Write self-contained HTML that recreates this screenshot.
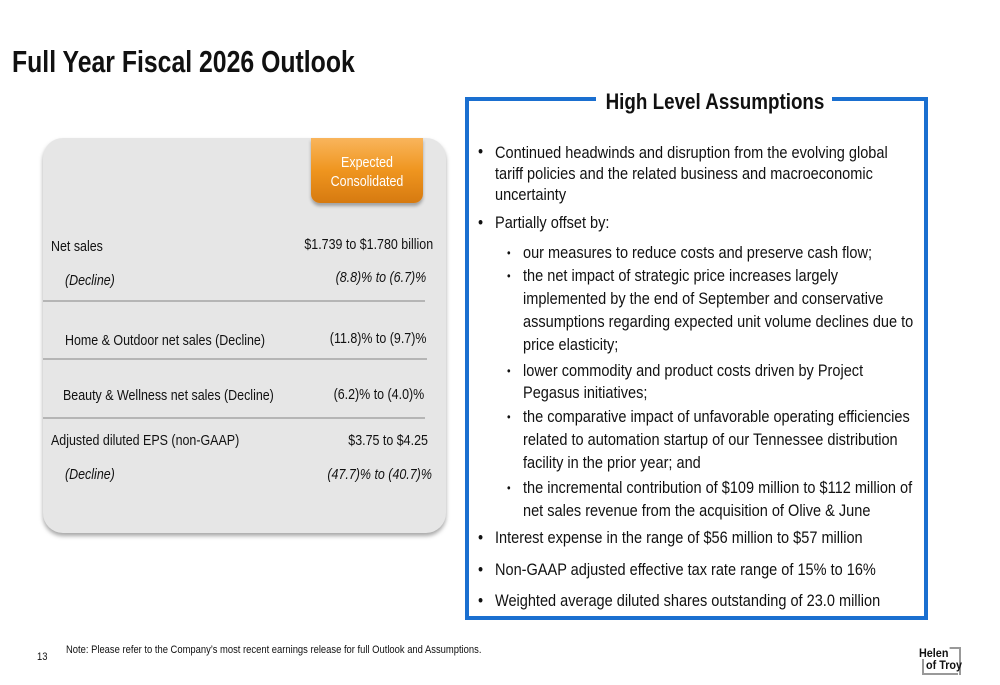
<!DOCTYPE html>
<html><head><meta charset="utf-8"><style>
body{margin:0;background:#fff;}
#slide{position:relative;width:1000px;height:685px;overflow:hidden;font-family:"Liberation Sans Narrow","Liberation Sans",Arial,sans-serif;color:#111;}
.t{position:absolute;white-space:nowrap;line-height:20px;transform-origin:0 50%;transform:scaleX(0.855);}
.r{transform-origin:100% 50%;text-align:right;}
.c{transform-origin:50% 50%;text-align:center;}
.b{font-size:17px;}
.tb{font-size:15px;transform:scaleX(0.83);}
.i{font-style:italic;}
.hr{position:absolute;height:2px;background:#b5b5b5;}
</style></head><body>
<div id="slide">
<div class="t" style="left:12px;top:45px;font-size:31px;font-weight:bold;line-height:34px;transform:scaleX(0.8);">Full Year Fiscal 2026 Outlook</div>

<div style="position:absolute;left:43px;top:138px;width:403px;height:395px;background:#e6e6e6;border-radius:20px;box-shadow:0 3px 4px rgba(0,0,0,0.35);">
</div>
<div style="position:absolute;left:311px;top:138px;width:112px;height:65px;background:linear-gradient(#f9b55c,#ef951f 50%,#d67a10);border-radius:0 0 9px 9px;box-shadow:0 3px 3px rgba(0,0,0,0.3);"></div>
<div class="t c tb" style="left:311px;width:112px;top:153px;color:#fff;">Expected</div>
<div class="t c tb" style="left:311px;width:112px;top:172px;color:#fff;">Consolidated</div>

<div class="t tb" style="left:51px;top:237px;">Net sales</div>
<div class="t tb r" style="right:567px;top:235px;">$1.739 to $1.780 billion</div>
<div class="t tb i" style="left:65px;top:271px;">(Decline)</div>
<div class="t tb i r" style="right:574px;top:268px;">(8.8)% to (6.7)%</div>
<div class="hr" style="left:43px;width:382px;top:300px;"></div>
<div class="t tb" style="left:65px;top:331px;">Home &amp; Outdoor net sales (Decline)</div>
<div class="t tb r" style="right:574px;top:329px;">(11.8)% to (9.7)%</div>
<div class="hr" style="left:43px;width:384px;top:358px;"></div>
<div class="t tb" style="left:63px;top:386px;">Beauty &amp; Wellness net sales (Decline)</div>
<div class="t tb r" style="right:576px;top:385px;">(6.2)% to (4.0)%</div>
<div class="hr" style="left:43px;width:382px;top:417px;"></div>
<div class="t tb" style="left:51px;top:431px;">Adjusted diluted EPS (non-GAAP)</div>
<div class="t tb r" style="right:572px;top:431px;">$3.75 to $4.25</div>
<div class="t tb i" style="left:65px;top:465px;">(Decline)</div>
<div class="t tb i r" style="right:568px;top:465px;">(47.7)% to (40.7)%</div>

<div style="position:absolute;left:465px;top:97px;width:455px;height:515px;border:4px solid #1a6fd0;"></div>
<div style="position:absolute;left:596px;top:90px;width:236px;height:20px;background:#fff;"></div>
<div class="t c" style="left:560px;width:310px;top:90px;font-size:22px;font-weight:bold;line-height:24px;">High Level Assumptions</div>

<div class="t b" style="left:478px;top:142px;">•</div>
<div class="t b" style="left:495px;top:143px;">Continued headwinds and disruption from the evolving global</div>
<div class="t b" style="left:495px;top:164px;">tariff policies and the related business and macroeconomic</div>
<div class="t b" style="left:495px;top:185px;">uncertainty</div>
<div class="t b" style="left:478px;top:213px;">•</div>
<div class="t b" style="left:495px;top:213px;">Partially offset by:</div>

<div class="t" style="left:507px;top:243px;font-size:12px;">•</div>
<div class="t b" style="left:523px;top:243px;">our measures to reduce costs and preserve cash flow;</div>
<div class="t" style="left:507px;top:266px;font-size:12px;">•</div>
<div class="t b" style="left:523px;top:266px;">the net impact of strategic price increases largely</div>
<div class="t b" style="left:523px;top:289px;">implemented by the end of September and conservative</div>
<div class="t b" style="left:523px;top:312px;">assumptions regarding expected unit volume declines due to</div>
<div class="t b" style="left:523px;top:335px;">price elasticity;</div>
<div class="t" style="left:507px;top:361px;font-size:12px;">•</div>
<div class="t b" style="left:523px;top:361px;">lower commodity and product costs driven by Project</div>
<div class="t b" style="left:523px;top:383px;">Pegasus initiatives;</div>
<div class="t" style="left:507px;top:407px;font-size:12px;">•</div>
<div class="t b" style="left:523px;top:407px;">the comparative impact of unfavorable operating efficiencies</div>
<div class="t b" style="left:523px;top:430px;">related to automation startup of our Tennessee distribution</div>
<div class="t b" style="left:523px;top:453px;">facility in the prior year; and</div>
<div class="t" style="left:507px;top:478px;font-size:12px;">•</div>
<div class="t b" style="left:523px;top:478px;">the incremental contribution of $109 million to $112 million of</div>
<div class="t b" style="left:523px;top:501px;">net sales revenue from the acquisition of Olive &amp; June</div>

<div class="t b" style="left:478px;top:528px;">•</div>
<div class="t b" style="left:495px;top:528px;">Interest expense in the range of $56 million to $57 million</div>
<div class="t b" style="left:478px;top:560px;">•</div>
<div class="t b" style="left:495px;top:560px;">Non-GAAP adjusted effective tax rate range of 15% to 16%</div>
<div class="t b" style="left:478px;top:591px;">•</div>
<div class="t b" style="left:495px;top:591px;">Weighted average diluted shares outstanding of 23.0 million</div>

<div class="t" style="left:37px;top:647px;font-size:11px;">13</div>
<div class="t" style="left:66px;top:640px;font-size:11px;">Note: Please refer to the Company’s most recent earnings release for full Outlook and Assumptions.</div>

<div style="position:absolute;left:918px;top:646px;width:43px;height:29px;">
  <div style="position:absolute;left:12px;top:1px;width:29px;height:26px;border-top:2px solid #999;border-right:2px solid #999;"></div>
  <div style="position:absolute;left:4px;bottom:0;width:34px;height:20px;border-left:2px solid #999;border-bottom:2px solid #999;"></div>
  <div class="t" style="left:1px;top:1px;font-size:12px;font-weight:bold;line-height:12px;background:#fff;padding-right:1px;transform:scaleX(0.9);">Helen</div>
  <div class="t" style="left:8px;top:13px;font-size:12px;font-weight:bold;line-height:12px;transform:scaleX(0.9);">of Troy</div>
</div>
</div>
</body></html>
